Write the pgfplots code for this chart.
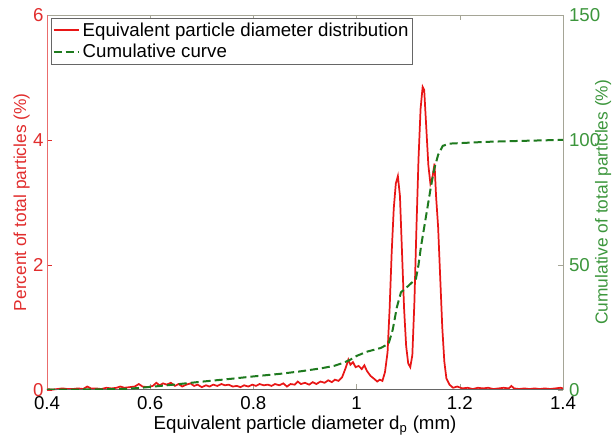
\documentclass[border=0pt]{standalone}
\usepackage{pgfplots}
\pgfplotsset{compat=1.18}
\usepackage{fontspec}
\setmainfont{Liberation Sans}
\definecolor{lred}{RGB}{232,22,22}
\definecolor{tred}{RGB}{225,45,45}
\definecolor{dgreen}{RGB}{30,122,30}
\definecolor{tgreen}{RGB}{60,150,60}
\definecolor{spine}{RGB}{165,165,150}

\pgfplotstableread{
x y
0.400 0.01
0.410 0.00
0.420 0.01
0.430 0.02
0.440 0.01
0.450 0.01
0.460 0.02
0.470 0.01
0.478 0.05
0.485 0.02
0.495 0.02
0.505 0.01
0.515 0.03
0.525 0.02
0.535 0.03
0.542 0.05
0.550 0.03
0.560 0.04
0.570 0.05
0.578 0.09
0.585 0.05
0.595 0.04
0.605 0.06
0.612 0.11
0.618 0.07
0.625 0.10
0.632 0.08
0.640 0.11
0.648 0.06
0.655 0.09
0.662 0.05
0.670 0.08
0.678 0.10
0.685 0.06
0.692 0.08
0.700 0.04
0.708 0.07
0.715 0.05
0.722 0.08
0.730 0.06
0.738 0.09
0.745 0.07
0.752 0.08
0.760 0.05
0.768 0.06
0.775 0.04
0.782 0.07
0.790 0.05
0.798 0.08
0.805 0.06
0.812 0.09
0.820 0.07
0.828 0.08
0.835 0.06
0.842 0.09
0.850 0.07
0.858 0.10
0.865 0.05
0.872 0.09
0.880 0.08
0.886 0.13
0.892 0.09
0.900 0.11
0.908 0.08
0.915 0.12
0.922 0.09
0.930 0.13
0.938 0.11
0.945 0.15
0.952 0.12
0.958 0.16
0.965 0.14
0.972 0.20
0.978 0.33
0.984 0.48
0.988 0.40
0.993 0.44
0.998 0.36
1.004 0.38
1.010 0.33
1.015 0.39
1.020 0.30
1.027 0.22
1.033 0.18
1.040 0.13
1.045 0.16
1.050 0.14
1.055 0.28
1.060 0.60
1.064 1.30
1.068 2.20
1.072 2.90
1.076 3.30
1.080 3.42
1.084 3.10
1.088 2.20
1.092 1.30
1.096 0.70
1.100 0.42
1.104 0.36
1.108 0.55
1.112 1.40
1.116 2.60
1.120 3.70
1.124 4.50
1.128 4.85
1.131 4.80
1.135 4.20
1.139 3.60
1.143 3.30
1.147 3.40
1.151 3.62
1.154 3.10
1.158 2.60
1.162 1.80
1.166 1.00
1.170 0.45
1.174 0.18
1.180 0.08
1.187 0.03
1.195 0.05
1.205 0.02
1.215 0.03
1.225 0.01
1.235 0.03
1.245 0.02
1.255 0.03
1.265 0.01
1.275 0.02
1.285 0.03
1.295 0.02
1.300 0.06
1.305 0.02
1.315 0.01
1.325 0.02
1.335 0.01
1.345 0.02
1.355 0.01
1.365 0.02
1.375 0.01
1.385 0.02
1.395 0.03
1.400 0.02
}\distdata

\pgfplotstableread{
x y
0.400 0.0
0.500 0.1
0.550 0.3
0.580 0.7
0.600 1.1
0.645 2.0
0.700 3.2
0.750 4.2
0.800 5.3
0.850 6.3
0.890 7.3
0.930 8.5
0.956 9.5
0.975 10.8
0.988 12.0
1.000 13.5
1.020 15.2
1.047 16.7
1.062 18.4
1.070 24.0
1.078 33.0
1.086 39.0
1.100 41.5
1.115 44.4
1.120 50.0
1.125 57.6
1.135 70.0
1.143 80.0
1.150 88.0
1.158 94.0
1.167 97.6
1.180 98.5
1.250 99.2
1.300 99.5
1.400 100.0
}\cumdata

\begin{document}
\begin{tikzpicture}
\pgfplotsset{
  every axis/.append style={
    scale only axis, width=387pt, height=281pt,
    xmin=0.4, xmax=1.4,
    /pgf/number format/assume math mode=true,
    tick label style={font=\fontsize{14}{16}\selectfont},
    label style={font=\fontsize{14}{16}\selectfont},
    ylabel style={font=\fontsize{13}{15}\selectfont},
    tick align=inside, major tick length=4pt,
  }
}
\begin{axis}[
  name=main,
  axis line style={spine},
  ymin=0, ymax=6,
  ytick={0,2,4,6},
  xtick={0.4,0.6,0.8,1,1.2,1.4},
  xticklabels={0.4,0.6,0.8,1,1.2,1.4},
  xtick pos=both, ytick pos=left,
  yticklabel style={text=tred, xshift=1pt},
  xticklabel style={yshift=-1.5pt},
  y tick style={tred},
  x tick style={spine},
  xlabel={Equivalent particle diameter d\textsubscript{p} (mm)},
  ylabel={Percent of total particles (\%)},
  ylabel style={text=tred, at={(axis description cs:-0.049,0.5)}, anchor=center},
  xlabel style={at={(axis description cs:0.5,-0.097)}, anchor=center},
  clip=false,
]
  \addplot[lred, line width=1.3pt] table[x=x,y=y] {\distdata};
  \draw[tred!70] (rel axis cs:0,0) -- (rel axis cs:0,1);
  \draw[black!60] (rel axis cs:0,0) -- (rel axis cs:1,0);
\end{axis}
\begin{axis}[
  axis x line=none,
  axis y line*=right,
  axis line style={spine},
  ymin=0, ymax=150,
  ytick={0,50,100,150},
  yticklabel style={text=tgreen, xshift=1pt},
  y tick style={spine},
  ylabel={Cumulative of total particles (\%)},
  ylabel style={text=tgreen, at={(axis description cs:1.078,0.5)}, anchor=center, rotate=0},
  legend style={at={(rel axis cs:0.008,0.993)}, anchor=north west,
    draw=black!60, font=\fontsize{14}{16}\selectfont,
    inner xsep=1pt, inner ysep=1.5pt, row sep=0.5pt},
  legend cell align=left,
  legend image code/.code={\draw (0pt,0pt) -- (19pt,0pt);},
]
  \addlegendimage{color=lred, solid, line width=1.3pt}
  \addlegendentry{Equivalent particle diameter distribution}
  \addplot[dgreen, line width=1.5pt, dash pattern=on 6pt off 3pt] table[x=x,y=y] {\cumdata};
  \addlegendentry{Cumulative curve}
\end{axis}
\pgfresetboundingbox
\path[use as bounding box] ([shift={(-35.25pt,-36.75pt)}]main.south west) rectangle ([shift={(39.75pt,11.25pt)}]main.north east);
\end{tikzpicture}
\end{document}
